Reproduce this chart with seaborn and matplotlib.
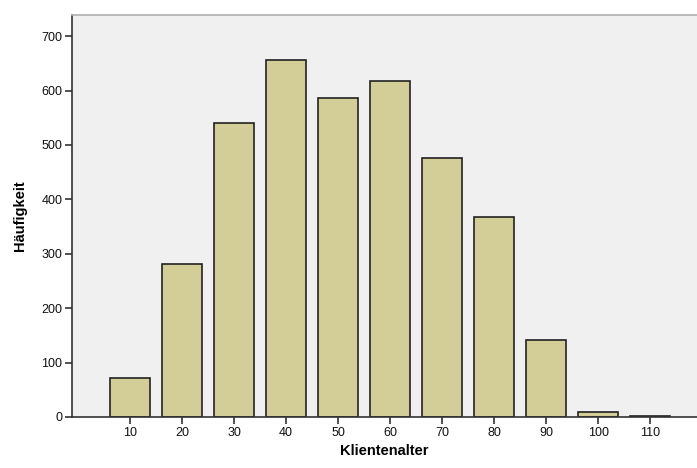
import matplotlib
matplotlib.use("Agg")
import matplotlib.pyplot as plt
import seaborn as sns
import pandas as pd

# data
ages = ["10", "20", "30", "40", "50", "60", "70", "80", "90", "100", "110"]
counts = [72, 282, 540, 657, 587, 617, 477, 368, 141, 10, 2]

sns.set_style("white")
plt.rcParams['font.family'] = ['Liberation Sans', 'DejaVu Sans']

df = pd.DataFrame({"Klientenalter": ages, "Häufigkeit": counts})

fig = plt.figure(figsize=(6.97, 4.68), dpi=100)
ax = fig.add_axes([0.1033, 0.109, 0.897, 0.859])
ax.set_facecolor("#f0f0f0")

sns.barplot(data=df, x="Klientenalter", y="Häufigkeit", order=ages,
            color="#d3ce97", saturation=1, width=0.77,
            edgecolor="#222222", linewidth=1.2, ax=ax)

ax.set_xlim(-1.115, 10.9)
ax.set_ylim(0, 739)
ax.set_yticks([0, 100, 200, 300, 400, 500, 600, 700])

# ticks stick out of the axes, as in the reference
ax.tick_params(axis="both", which="major", bottom=True, left=True,
               direction="out", length=5, width=1.2,
               color="#333333", labelsize=9, labelcolor="#111111", pad=2)

for s in ["left", "bottom"]:
    ax.spines[s].set_color("#333333")
    ax.spines[s].set_linewidth(1.2)
ax.spines["top"].set_color("#b0b0b0")
ax.spines["top"].set_linewidth(1.2)
ax.spines["right"].set_visible(False)

ax.set_xlabel("Klientenalter", fontsize=10.5, fontweight="bold", color="black", labelpad=4)
ax.set_ylabel("Häufigkeit", fontsize=10.5, fontweight="bold", color="black", labelpad=10)

fig.savefig("out.png", dpi=100)
